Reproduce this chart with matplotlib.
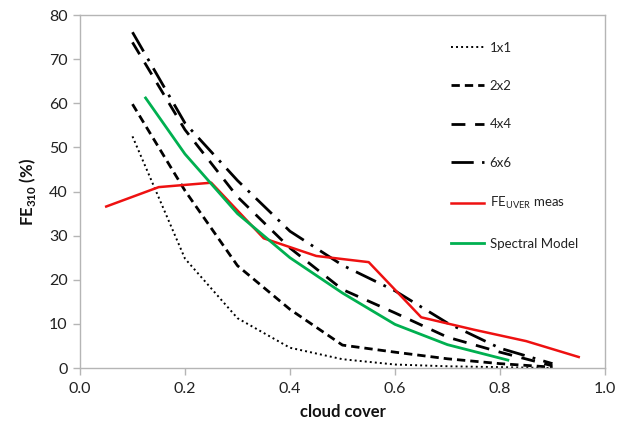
import matplotlib
matplotlib.use("Agg")
import matplotlib.pyplot as plt

plt.rcParams['font.family'] = ['Lato', 'DejaVu Sans']
plt.rcParams['mathtext.fontset'] = 'custom'
plt.rcParams['mathtext.rm'] = 'Lato'
plt.rcParams['mathtext.bf'] = 'Lato:bold'

# cloud cover grid for the pixel-averaged model curves
cover = [0.1, 0.2, 0.3, 0.4, 0.5, 0.6, 0.7, 0.8, 0.9]
fe_1x1 = [52.5, 24.8, 11.3, 4.6, 2.0, 0.8, 0.4, 0.2, 0.0]
fe_2x2 = [59.8, 40.2, 23.2, 13.3, 5.2, 3.6, 2.1, 1.0, 0.2]
fe_4x4 = [73.8, 54.0, 38.8, 27.2, 17.8, 12.5, 7.0, 3.6, 0.5]
fe_6x6 = [76.1, 55.5, 42.5, 31.0, 23.3, 17.5, 10.2, 4.5, 1.0]

# measured UVER enhancement
meas_cover = [0.05, 0.15, 0.25, 0.35, 0.45, 0.55, 0.65, 0.75, 0.85, 0.95]
fe_meas = [36.6, 41.0, 42.0, 29.4, 25.4, 24.0, 11.5, 8.7, 6.1, 2.5]

# spectral model
spec_cover = [0.125, 0.2, 0.3, 0.4, 0.5, 0.6, 0.7, 0.815]
fe_spec = [61.2, 48.5, 35.0, 25.0, 17.0, 9.9, 5.3, 1.8]

labels = ['1x1', '2x2', '4x4', '6x6', r'FE$_{\mathrm{UVER}}$ meas', 'Spectral Model']

fig = plt.figure(figsize=(6.18, 4.25), dpi=100)
ax = fig.add_axes([0.1294, 0.134, 0.8495, 0.8307])

ax.plot(cover, fe_1x1, color='black', lw=1.4, ls=(0, (1, 1.6)), label=labels[0])
ax.plot(cover, fe_2x2, color='black', lw=2.0, ls=(0, (3, 1.8)), label=labels[1])
ax.plot(cover, fe_4x4, color='black', lw=2.0, ls=(0, (5, 3.5)), label=labels[2])
ax.plot(cover, fe_6x6, color='black', lw=2.0, ls=(0, (8, 3, 1, 3)), label=labels[3])
ax.plot(meas_cover, fe_meas, color='#ee1111', lw=1.8, label=labels[4])
ax.plot(spec_cover, fe_spec, color='#00b050', lw=2.0, label=labels[5])

ax.set_xlim(0, 1.0)
ax.set_ylim(0, 80)
ax.set_xticks([0.0, 0.2, 0.4, 0.6, 0.8, 1.0])
ax.set_xticklabels(['0.0', '0.2', '0.4', '0.6', '0.8', '1.0'])
ax.set_yticks(range(0, 81, 10))

grey = '#b5b5b5'
for s in ax.spines.values():
    s.set_color(grey)
    s.set_linewidth(1.0)
ax.tick_params(axis='both', colors=grey, labelcolor='#222222', labelsize=11.5,
               length=5, width=1.0, direction='out')
ax.tick_params(axis='x', pad=5)
ax.tick_params(axis='y', pad=4)

ax.set_xlabel('cloud cover', fontsize=12, fontweight='bold', color='#111111', labelpad=6)
ax.set_ylabel(r'FE$_{\mathbf{310}}$ (%)', fontsize=12, fontweight='bold', color='#111111', labelpad=8)

leg = ax.legend(loc='upper left', bbox_to_anchor=(0.685, 0.958), frameon=False,
                fontsize=9.5, labelspacing=2.0, handlelength=2.5, handletextpad=0.4)
for t in leg.get_texts():
    t.set_color('#222222')

fig.savefig('out.png', dpi=100)
